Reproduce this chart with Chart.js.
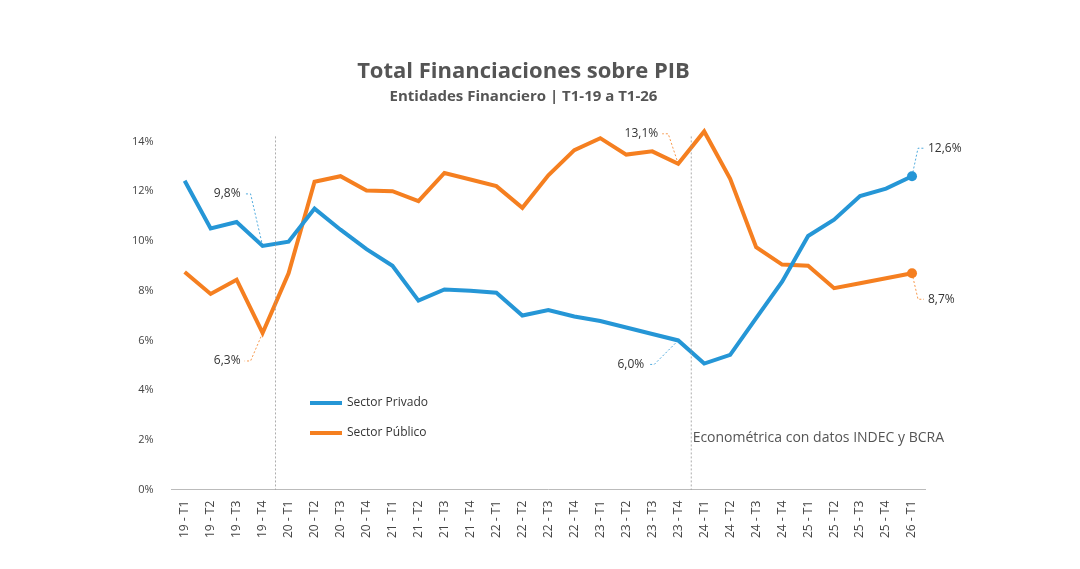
<!DOCTYPE html>
<html><head><meta charset="utf-8">
<script src="https://cdn.jsdelivr.net/npm/chart.js@4"></script>
<style>body{margin:0;background:#fff}#w{width:1080px;height:569px;position:relative}</style>
</head><body><div id="w"><canvas id="c"></canvas></div>
<script>
const categories=["19 - T1","19 - T2","19 - T3","19 - T4","20 - T1","20 - T2","20 - T3","20 - T4","21 - T1","21 - T2","21 - T3","21 - T4","22 - T1","22 - T2","22 - T3","22 - T4","23 - T1","23 - T2","23 - T3","23 - T4","24 - T1","24 - T2","24 - T3","24 - T4","25 - T1","25 - T2","25 - T3","25 - T4","26 - T1"];
const privado=[12.42,10.5,10.76,9.8,9.97,11.3,10.45,9.67,9.0,7.6,8.05,8.0,7.92,7.0,7.22,6.96,6.78,6.52,6.26,6.0,5.07,5.42,6.9,8.36,10.2,10.85,11.8,12.1,12.6];
const publico=[8.75,7.87,8.44,6.3,8.7,12.38,12.6,12.03,12.0,11.6,12.73,12.47,12.2,11.33,12.64,13.65,14.13,13.47,13.6,13.1,14.4,12.5,9.75,9.05,9.0,8.1,8.3,8.5,8.7];
const yTicks=[0,2,4,6,8,10,12,14];
const BLUE="#2596d6",ORANGE="#f57f20";
const fmt=v=>v.toFixed(1).replace('.',',')+'%';
const extras={id:'extras',afterDatasetsDraw(ch){
  const {ctx,scales:{x,y},chartArea:a}=ch;
  ctx.save();
  ctx.strokeStyle='#999';ctx.lineWidth=0.8;ctx.setLineDash([2,2]);
  [[3,4],[19,20]].forEach(([i,j])=>{const px=(x.getPixelForValue(i)+x.getPixelForValue(j))/2;ctx.beginPath();ctx.moveTo(px,y.getPixelForValue(14.2));ctx.lineTo(px,a.bottom);ctx.stroke();});
  ctx.font='12px "Open Sans", sans-serif';ctx.fillStyle='#333';ctx.lineWidth=0.8;
  const ann=[[privado,3,BLUE,-12,-52,'right'],[publico,3,ORANGE,-12,28,'right'],[privado,19,BLUE,-24,24,'right'],[publico,19,ORANGE,-10,-30,'right'],[privado,28,BLUE,6,-28,'left'],[publico,28,ORANGE,6,26,'left']];
  ann.forEach(([s,i,col,dx,dy,al])=>{
    const px=x.getPixelForValue(i),py=y.getPixelForValue(s[i]);
    ctx.strokeStyle=col;ctx.beginPath();
    const ex=px+dx,ey=py+dy;
    ctx.moveTo(px,py);ctx.lineTo(ex,ey);ctx.lineTo(ex+(al==='left'?6:-6),ey);ctx.stroke();
    ctx.textAlign=al;ctx.textBaseline='middle';
    ctx.fillText(fmt(s[i]),ex+(al==='left'?10:-10),ey);
  });
  ctx.setLineDash([]);
  [[privado,BLUE],[publico,ORANGE]].forEach(([s,c])=>{ctx.fillStyle=c;ctx.beginPath();ctx.arc(x.getPixelForValue(28),y.getPixelForValue(s[28]),5,0,7);ctx.fill();});
  ctx.lineWidth=4;ctx.font='12px "Open Sans", sans-serif';ctx.fillStyle='#333';ctx.textAlign='left';
  [[BLUE,'Sector Privado',403],[ORANGE,'Sector Público',433]].forEach(([c,t,ly])=>{ctx.strokeStyle=c;ctx.beginPath();ctx.moveTo(310,ly);ctx.lineTo(342,ly);ctx.stroke();ctx.fillText(t,347,ly);});
  ctx.font='14px "Open Sans", sans-serif';ctx.fillStyle='#555';ctx.textAlign='right';
  ctx.fillText('Econométrica con datos INDEC y BCRA',944,438);
  ctx.restore();
}};
new Chart(document.getElementById('c'),{type:'line',
 data:{labels:categories,datasets:[
  {label:'Sector Privado',data:privado,borderColor:BLUE,borderWidth:4,pointRadius:0,tension:0,clip:false},
  {label:'Sector Público',data:publico,borderColor:ORANGE,borderWidth:4,pointRadius:0,tension:0,clip:false}]},
 options:{responsive:true,maintainAspectRatio:false,animation:false,
  layout:{padding:{left:122,right:155,top:17,bottom:28}},
  plugins:{legend:{display:false},tooltip:{enabled:false},
   title:{display:true,text:'Total Financiaciones sobre PIB',color:'#555',font:{family:'"Open Sans", sans-serif',size:22,weight:'bold'},padding:{top:42,bottom:2}},
   subtitle:{display:true,text:'Entidades Financiero | T1-19 a T1-26',color:'#555',font:{family:'"Open Sans", sans-serif',size:15,weight:'bold'},padding:{bottom:36}}},
  scales:{
   x:{offset:true,grid:{display:false},border:{color:'#bbb'},ticks:{color:'#444',font:{family:'"Open Sans", sans-serif',size:12},maxRotation:90,minRotation:90,autoSkip:false}},
   y:{min:0,max:14,afterBuildTicks:s=>{s.ticks=yTicks.map(v=>({value:v}));},grid:{display:false},border:{display:false},ticks:{color:'#444',font:{family:'"Open Sans", sans-serif',size:11},padding:10,callback:v=>v+'%'}}}},
 plugins:[extras]});
</script></body></html>
